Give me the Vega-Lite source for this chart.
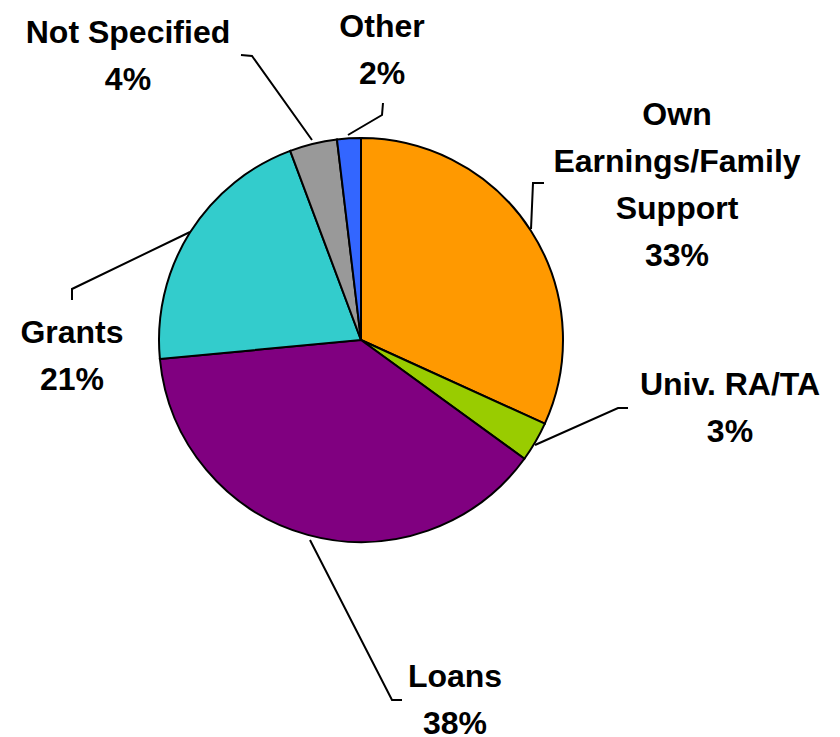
{
  "$schema": "https://vega.github.io/schema/vega-lite/v6.json",
  "width": 722,
  "height": 680,
  "autosize": {"type": "none"},
  "padding": {"left": 0, "top": 0, "right": 118, "bottom": 57},
  "background": "white",
  "config": {"view": {"stroke": null}},
  "datasets": {
    "slices": [
      {"source": "Own Earnings/Family Support", "share": 31.8, "order": 1},
      {"source": "Univ. RA/TA", "share": 3.2, "order": 2},
      {"source": "Loans", "share": 38.5, "order": 3},
      {"source": "Grants", "share": 20.8, "order": 4},
      {"source": "Not Specified", "share": 3.8, "order": 5},
      {"source": "Other", "share": 1.9, "order": 6}
    ],
    "labels": [
      {"label": "Own\nEarnings/Family\nSupport\n33%", "u": 1.5644, "v": 1.1881},
      {"label": "Univ. RA/TA\n3%", "u": 1.8267, "v": -0.1485},
      {"label": "Loans\n38%", "u": 0.4653, "v": -1.5941},
      {"label": "Grants\n21%", "u": -1.4307, "v": 0.1089},
      {"label": "Not Specified\n4%", "u": -1.1535, "v": 1.5941},
      {"label": "Other\n2%", "u": 0.104, "v": 1.6238}
    ],
    "leaders": [
      {"line": "own", "i": 1, "u": 0.8416, "v": 0.5495},
      {"line": "own", "i": 2, "u": 0.8515, "v": 0.7772},
      {"line": "own", "i": 3, "u": 0.9059, "v": 0.7772},
      {"line": "univ", "i": 1, "u": 0.8614, "v": -0.5198},
      {"line": "univ", "i": 2, "u": 1.2723, "v": -0.3366},
      {"line": "univ", "i": 3, "u": 1.3218, "v": -0.3366},
      {"line": "loans", "i": 1, "u": -0.2525, "v": -0.9901},
      {"line": "loans", "i": 2, "u": 0.1535, "v": -1.7822},
      {"line": "loans", "i": 3, "u": 0.203, "v": -1.7822},
      {"line": "grants", "i": 1, "u": -0.8465, "v": 0.5347},
      {"line": "grants", "i": 2, "u": -1.4307, "v": 0.2525},
      {"line": "grants", "i": 3, "u": -1.4307, "v": 0.198},
      {"line": "notspec", "i": 1, "u": -0.2426, "v": 0.9901},
      {"line": "notspec", "i": 2, "u": -0.5396, "v": 1.4059},
      {"line": "notspec", "i": 3, "u": -0.5941, "v": 1.4109},
      {"line": "other", "i": 1, "u": -0.0644, "v": 1.0149},
      {"line": "other", "i": 2, "u": 0.104, "v": 1.1139},
      {"line": "other", "i": 3, "u": 0.1089, "v": 1.1733}
    ]
  },
  "layer": [
    {
      "data": {"name": "slices"},
      "mark": {"type": "arc", "outerRadius": 202, "stroke": "black", "strokeWidth": 2},
      "encoding": {
        "theta": {"field": "share", "type": "quantitative", "stack": true},
        "order": {"field": "order", "type": "quantitative"},
        "color": {
          "field": "source",
          "type": "nominal",
          "legend": null,
          "scale": {
            "domain": ["Own Earnings/Family Support", "Univ. RA/TA", "Loans", "Grants", "Not Specified", "Other"],
            "range": ["#FF9900", "#99CC00", "#800080", "#33CCCC", "#999999", "#3366FF"]
          }
        }
      }
    },
    {
      "data": {"name": "leaders"},
      "mark": {"type": "line", "color": "black", "strokeWidth": 2, "clip": false},
      "encoding": {
        "x": {"field": "u", "type": "quantitative", "axis": null, "scale": {"domain": [-1.7871, 1.7871], "zero": false, "nice": false}},
        "y": {"field": "v", "type": "quantitative", "axis": null, "scale": {"domain": [-1.6832, 1.6832], "zero": false, "nice": false}},
        "detail": {"field": "line", "type": "nominal"},
        "order": {"field": "i", "type": "quantitative"}
      }
    },
    {
      "data": {"name": "labels"},
      "mark": {"type": "text", "font": "Liberation Sans", "fontWeight": "bold", "fontSize": 32, "lineBreak": "\n", "lineHeight": 47, "align": "center", "baseline": "top", "color": "black"},
      "encoding": {
        "x": {"field": "u", "type": "quantitative", "axis": null, "scale": {"domain": [-1.7871, 1.7871], "zero": false, "nice": false}},
        "y": {"field": "v", "type": "quantitative", "axis": null, "scale": {"domain": [-1.6832, 1.6832], "zero": false, "nice": false}},
        "text": {"field": "label", "type": "nominal"}
      }
    }
  ]
}
